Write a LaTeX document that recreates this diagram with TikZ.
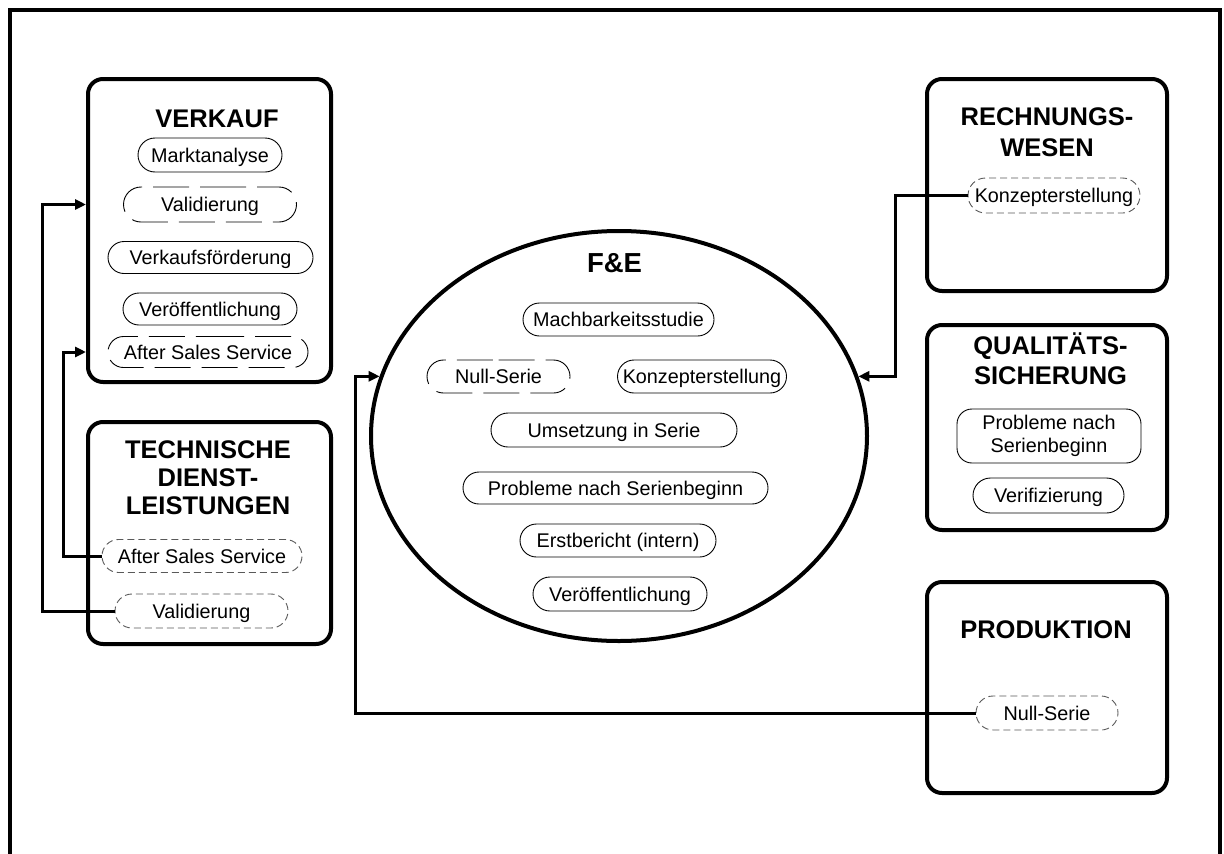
\documentclass[tikz,border=0pt]{standalone}
\usepackage{fontspec}
\setmainfont{Liberation Sans}
\usetikzlibrary{shapes.geometric,shapes.misc,arrows.meta}

\begin{document}
\begin{tikzpicture}[x=1pt,y=-1pt,
  dept/.style={draw, line width=4pt, rounded corners=15pt, inner sep=0pt},
  head/.style={font=\fontsize{25.5}{28.3}\selectfont\bfseries, align=center, inner sep=0pt, anchor=north},
  pill/.style={draw, line width=0.9pt, rounded rectangle, inner sep=0pt,
               text height=18pt, text depth=3.8pt,
               font=\fontsize{19.8}{22.5}\selectfont},
  longdash/.style={pill, dash pattern=on 36pt off 11pt},
  shortdash/.style={pill, draw=black!65, dash pattern=on 7pt off 4pt},
  conn/.style={line width=3pt},
  arr/.style={conn, -{Triangle[length=11pt,width=10pt]}},
]
\useasboundingbox (0,0) rectangle (1224,854);
\clip (0,0) rectangle (1224,854);

% outer frame, open towards the bottom
\draw[line width=4pt] (10,900) -- (10,10) -- (1220,10) -- (1220,900);

% ---------------- departments ----------------
\node[dept, minimum width=243, minimum height=303] (vk) at (209.5,230.5) {};
\node[dept, minimum width=243, minimum height=222] (td) at (209.5,533) {};
\node[dept, minimum width=240, minimum height=212] (rw) at (1047,185) {};
\node[dept, minimum width=240, minimum height=205] (qs) at (1047,427.5) {};
\node[dept, minimum width=240, minimum height=211] (pr) at (1047,687.5) {};

\node[head] (vkt) at (217,110) {VERKAUF};
\node[head] (tdt) at (208,440) {TECHNISCHE\\DIENST-\\LEISTUNGEN};
\node[head, font=\fontsize{25.5}{31}\selectfont\bfseries] (rwt) at (1047,107) {RECHNUNGS-\\WESEN};
\node[head, font=\fontsize{25.5}{30.5}\selectfont\bfseries] (qst) at (1050.5,332.5) {QUALITÄTS-\\SICHERUNG};
\node[head] (prt) at (1046,620) {PRODUKTION};

% Verkauf
\node[pill, minimum width=144, minimum height=34] (vm) at (210,155) {Marktanalyse};
\node[longdash, minimum width=173, minimum height=35] (vv) at (210,204.5) {Validierung};
\node[pill, minimum width=205, minimum height=32] (vf) at (210.5,257.5) {Verkaufsförderung};
\node[pill, minimum width=174, minimum height=32] (vp) at (210,309) {Veröffentlichung};
\node[longdash, minimum width=200, minimum height=31] (va) at (208,352) {After Sales Service};

% Technische Dienstleistungen
\node[shortdash, minimum width=200, minimum height=33] (ta) at (202,556) {After Sales Service};
\node[shortdash, minimum width=173, minimum height=34] (tv) at (201.5,611) {Validierung};

% Rechnungswesen
\node[shortdash, minimum width=172, minimum height=35] (rk) at (1054,195.5) {Konzepterstellung};

% Qualitaetssicherung
\node[draw, line width=0.9pt, rounded corners=15pt, inner sep=0pt, align=center,
      minimum width=184, minimum height=54, font=\fontsize{19.8}{22.5}\selectfont]
      (qp) at (1049,436) {Probleme nach\\Serienbeginn};
\node[pill, minimum width=151, minimum height=35] (qv) at (1048.5,495.5) {Verifizierung};

% Produktion
\node[shortdash, minimum width=142, minimum height=34] (pn) at (1047,713) {Null-Serie};

% ---------------- F&E ----------------
\node[draw, ellipse, line width=4pt, inner sep=0pt, minimum width=496, minimum height=410] (fe) at (619,436) {};
\node[font=\fontsize{27.5}{30}\selectfont\bfseries, inner sep=0pt, anchor=base] (fet) at (614.5,272) {F\&E};

\node[pill, minimum width=191, minimum height=33] (em) at (618.5,319.5) {Machbarkeitsstudie};
\node[longdash, minimum width=143, minimum height=33] (en) at (498.5,376.5) {Null-Serie};
\node[pill, minimum width=169, minimum height=33] (ek) at (702,376.5) {Konzepterstellung};
\node[pill, minimum width=246, minimum height=34] (eu) at (614,430) {Umsetzung in Serie};
\node[pill, minimum width=305, minimum height=32] (ep) at (615.5,488) {Probleme nach Serienbeginn};
\node[pill, minimum width=196, minimum height=33] (ee) at (618,540.5) {Erstbericht (intern)};
\node[pill, minimum width=174, minimum height=34] (ev) at (620,594) {Veröffentlichung};

% ---------------- connectors ----------------
\coordinate (b1) at (42,400);
\coordinate (b2) at (63,450);
\coordinate (b3) at (895,300);
\coordinate (b4) at (355,550);

\draw[arr] (tv.west) -| (b1) |- (vk.west |- vv.center);
\draw[arr] (ta.west) -| (b2) |- (vk.west |- va.center);
\draw[arr] (rk.west) -| (b3) |- (fe.14);
\draw[arr] (pn.west) -| (b4) |- (fe.166);

\end{tikzpicture}
\end{document}
